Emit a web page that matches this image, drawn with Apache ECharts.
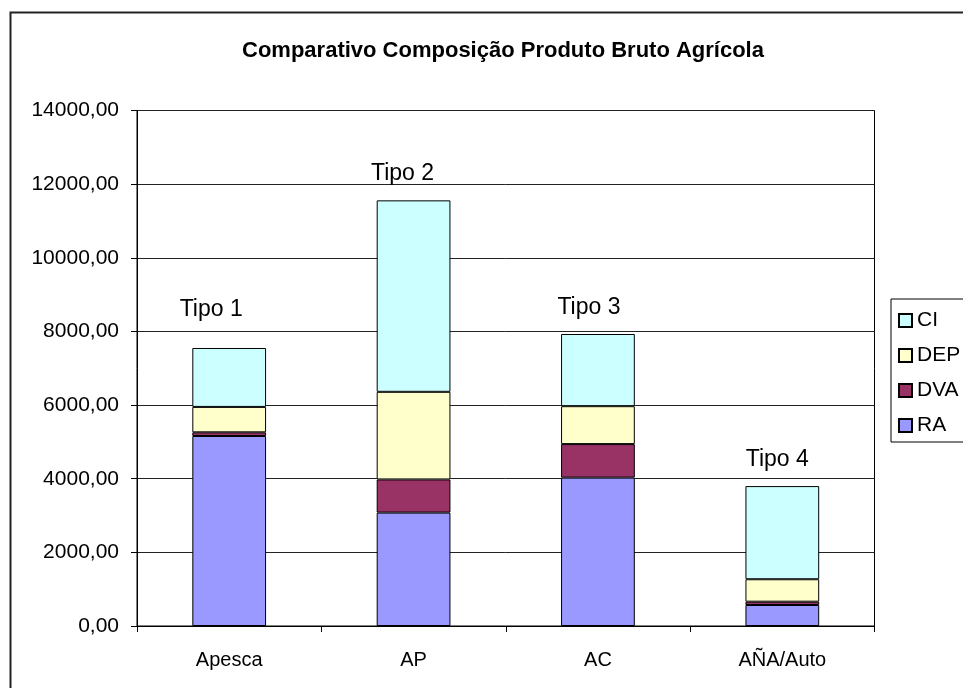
<!DOCTYPE html>
<html>
<head>
<meta charset="utf-8">
<script src="https://cdn.jsdelivr.net/npm/echarts@6/dist/echarts.min.js"></script>
<style>
  html, body { margin: 0; padding: 0; background: #fff; overflow: hidden; }
  #chart { width: 963px; height: 688px; }
</style>
</head>
<body>
<div id="chart"></div>
<script>
// Composição do produto bruto agrícola por tipo de produtor
const categories = ['Apesca', 'AP', 'AC', 'AÑA/Auto'];
const tipoLabels = ['Tipo 1', 'Tipo 2', 'Tipo 3', 'Tipo 4'];
const RA  = [5160, 3080, 4030, 570];
const DVA = [100, 900, 910, 90];
const DEP = [690, 2380, 1030, 610];
const CI  = [1600, 5200, 1960, 2530];
const yTicks = { min: 0, max: 14000, interval: 2000 };

const FONT = 'Liberation Sans, Arial, sans-serif';

// per-bar placement of the "Tipo" captions above each stack
const tipoOffsets = [[-18, -12], [-11, 0], [-9, 0], [-5, 0]];

const chart = echarts.init(document.getElementById('chart'), null, { renderer: 'canvas' });

function stackSeries(name, values, color, withTipo) {
  return {
    name: name,
    type: 'bar',
    stack: 'total',
    barWidth: '40%',
    itemStyle: { color: color, borderColor: '#000', borderWidth: 1 },
    emphasis: { disabled: true },
    data: values.map((v, i) => {
      const item = { value: v };
      if (withTipo) {
        item.label = {
          show: true,
          position: 'top',
          distance: 15,
          offset: tipoOffsets[i],
          formatter: tipoLabels[i],
          fontFamily: FONT,
          fontSize: 23,
          color: '#000'
        };
      }
      return item;
    })
  };
}

chart.setOption({
  animation: false,
  backgroundColor: '#fff',
  textStyle: { fontFamily: FONT },
  title: {
    text: 'Comparativo Composição Produto Bruto Agrícola',
    left: 498,
    top: 35,
    textAlign: 'center',
    textStyle: { fontFamily: FONT, fontSize: 22, fontWeight: 'bold', color: '#000' }
  },
  graphic: [{
    type: 'rect',
    left: 8,
    top: 10,
    shape: { width: 1000, height: 700 },
    style: { fill: 'none', stroke: '#222', lineWidth: 2 },
    z: 100
  }],
  legend: {
    orient: 'vertical',
    left: 891,
    top: 299,
    data: ['CI', 'DEP', 'DVA', 'RA'],
    icon: 'rect',
    itemWidth: 13,
    itemHeight: 13,
    itemGap: 14,
    itemTextGap: 8,
    padding: [11, 60, 6, 7],
    borderColor: '#000',
    borderWidth: 1,
    backgroundColor: '#fff',
    selectedMode: false,
    textStyle: { fontFamily: FONT, fontSize: 21, color: '#000' }
  },
  grid: {
    left: 137,
    top: 110.5,
    right: 963 - 874.5,
    bottom: 688 - 626,
    show: true,
    borderColor: '#000',
    borderWidth: 1,
    containLabel: false
  },
  xAxis: {
    type: 'category',
    data: categories,
    boundaryGap: true,
    axisLine: { lineStyle: { color: '#000', width: 1 } },
    axisTick: { show: true, length: 6, inside: false, alignWithLabel: false, lineStyle: { color: '#000' } },
    axisLabel: { margin: 24, fontFamily: FONT, fontSize: 20, color: '#000' },
    splitLine: { show: false }
  },
  yAxis: {
    type: 'value',
    min: yTicks.min,
    max: yTicks.max,
    interval: yTicks.interval,
    axisLine: { show: true, lineStyle: { color: '#000', width: 1 } },
    axisTick: { show: true, length: 6, inside: false, lineStyle: { color: '#000' } },
    axisLabel: {
      margin: 18,
      fontFamily: FONT,
      fontSize: 21,
      color: '#000',
      formatter: v => v.toFixed(2).replace('.', ',')
    },
    splitLine: { show: true, lineStyle: { color: '#222', width: 1 } }
  },
  series: [
    stackSeries('RA', RA, '#9999FF', false),
    stackSeries('DVA', DVA, '#993366', false),
    stackSeries('DEP', DEP, '#FFFFCC', false),
    stackSeries('CI', CI, '#CCFFFF', true)
  ]
});
</script>
</body>
</html>
